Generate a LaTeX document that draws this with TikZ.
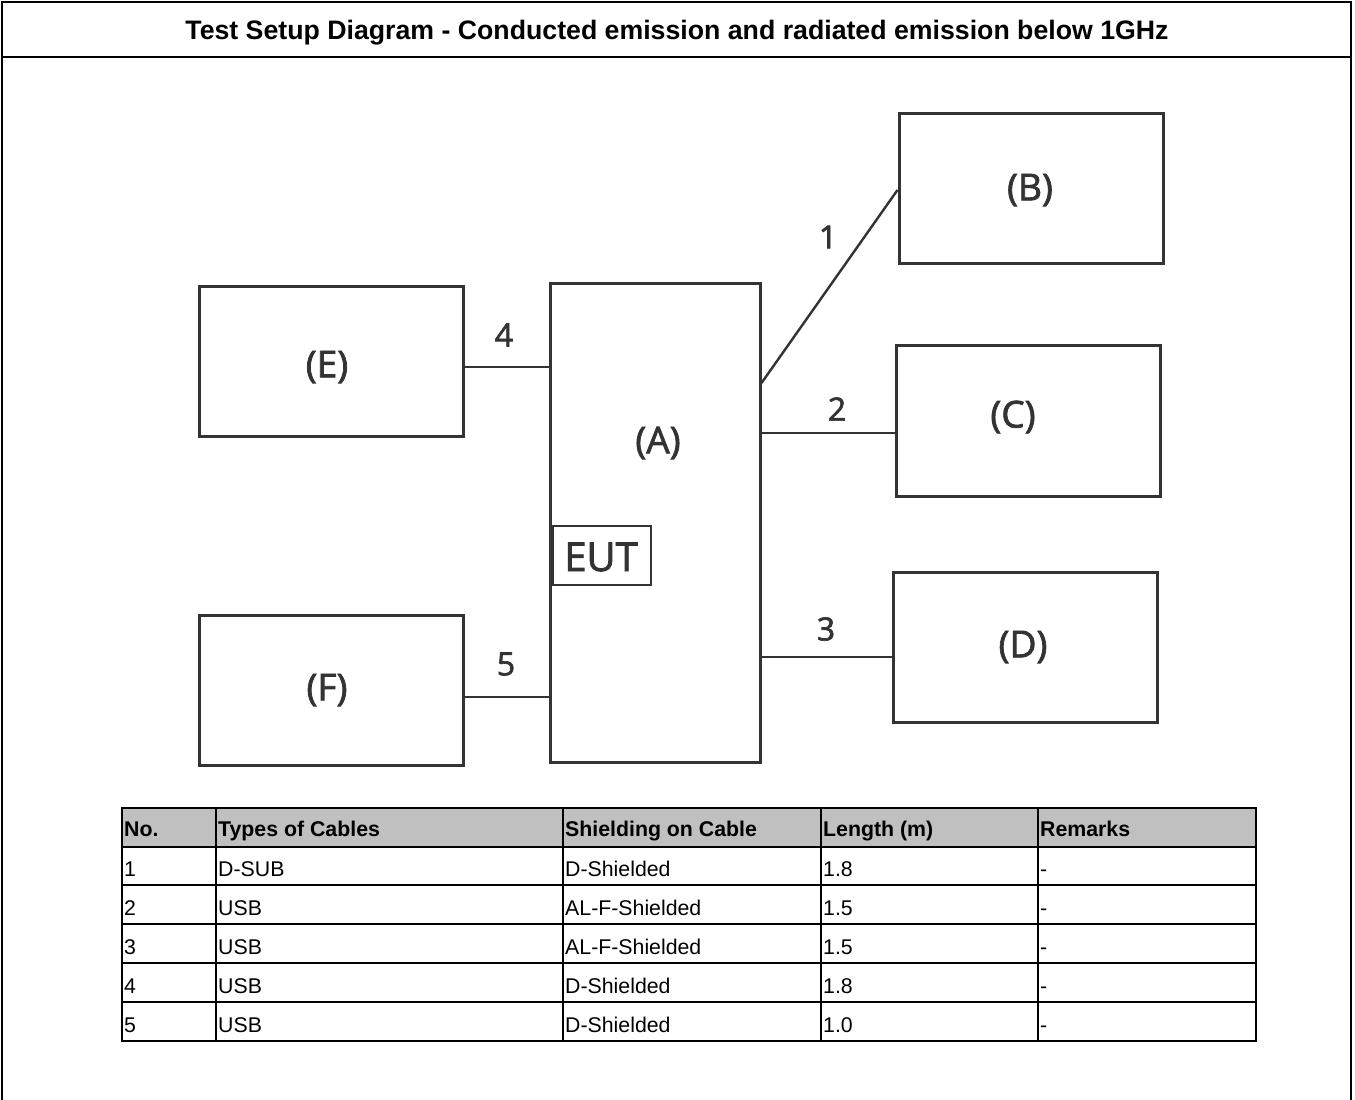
\documentclass[tikz,border=0pt]{standalone}
\usepackage{fontspec}
\setmainfont{Liberation Sans}
\newfontfamily\diagfont{Open Sans}[FakeBold=2]
\definecolor{ink}{HTML}{333333}
\definecolor{hdrgray}{HTML}{C0C0C0}
\begin{document}
\begin{tikzpicture}[x=1pt,y=-1pt,
  box/.style={draw=ink,line width=3pt,rectangle,inner sep=0pt},
  cable/.style={draw=ink,line width=2.8pt},
  boxtext/.style={font=\diagfont\fontsize{37}{40}\selectfont,text=ink,inner sep=0pt},
  numtext/.style={font=\diagfont\fontsize{32}{34}\selectfont,text=ink,inner sep=0pt},
  tline/.style={draw=black,line width=1.6pt},
  cell/.style={anchor=base west,inner sep=0pt,font=\fontsize{21.3}{24}\selectfont},
  hcell/.style={cell,font=\bfseries\fontsize{21.3}{24}\selectfont}]
\useasboundingbox (0,0) rectangle (1355,1100);
% frame (open at the bottom)
\draw[line width=2pt] (1.5,1101) -- (1.5,1.5) -- (1351,1.5) -- (1351,1101);
\draw[line width=2pt] (1.5,57) -- (1351,57);
\node[anchor=base,inner sep=0pt,font=\bfseries\fontsize{26.7}{30}\selectfont] (title) at (677,39) {Test Setup Diagram - Conducted emission and radiated emission below 1GHz};
% boxes
\node[box,minimum width=264pt,minimum height=150pt] (B) at (1031,188) {};
\node[box,minimum width=264pt,minimum height=151pt] (C) at (1028,420.5) {};
\node[box,minimum width=264pt,minimum height=150pt] (D) at (1025,647) {};
\node[box,minimum width=264pt,minimum height=150pt] (E) at (331,361) {};
\node[box,minimum width=264pt,minimum height=150pt] (F) at (331,690) {};
\node[box,minimum width=210pt,minimum height=479pt] (A) at (655,522.5) {};
\node[box,line width=2.6pt,minimum width=98pt,minimum height=59pt] (EUT) at (602,555.5) {};
% box texts
\node[boxtext] (tA) at (658,443) {(A)};
\node[boxtext] (tB) at (1030,190) {(B)};
\node[boxtext] (tC) at (1013,417) {(C)};
\node[boxtext] (tD) at (1023,647) {(D)};
\node[boxtext] (tE) at (327,367) {(E)};
\node[boxtext] (tF) at (327,690) {(F)};
\node[boxtext,font=\diagfont\fontsize{40}{44}\selectfont] (tEUT) at (601,557) {EUT};
% connector levels
\coordinate (y1) at (0,383);
\coordinate (y2) at (0,433);
\coordinate (y3) at (0,657);
\coordinate (y4) at (0,367);
\coordinate (y5) at (0,697);
\coordinate (y1b) at (0,190);
\draw[cable,line width=2.4pt] (A.east |- y1) -- (B.west |- y1b);
\draw[cable] (A.east |- y2) -- (C.west |- y2);
\draw[cable] (A.east |- y3) -- (D.west |- y3);
\draw[cable] (E.east |- y4) -- (A.west |- y4);
\draw[cable] (F.east |- y5) -- (A.west |- y5);
\node[numtext] (n1) at (828,237) {1};
\node[numtext] (n2) at (837,409) {2};
\node[numtext] (n3) at (826,629) {3};
\node[numtext] (n4) at (504,335) {4};
\node[numtext] (n5) at (506,664) {5};
% table
\fill[hdrgray] (122,808) rectangle (1256,847);
\foreach \y in {808,847,885,924,963,1002,1041} \draw[tline] (121.2,\y) -- (1256.8,\y);
\foreach \x in {122,216,563,821,1038,1256} \draw[tline] (\x,808) -- (\x,1041);
\node[hcell] at (124,836) {No.};
\node[hcell] at (218,836) {Types of Cables};
\node[hcell] at (565,836) {Shielding on Cable};
\node[hcell] at (823,836) {Length (m)};
\node[hcell] at (1040,836) {Remarks};
\foreach \r/\n/\t/\s/\l in {876/1/D-SUB/D-Shielded/1.8, 915/2/USB/AL-F-Shielded/1.5, 954/3/USB/AL-F-Shielded/1.5, 993/4/USB/D-Shielded/1.8, 1032/5/USB/D-Shielded/1.0}{
  \node[cell] at (124,\r) {\n};
  \node[cell] at (218,\r) {\t};
  \node[cell] at (565,\r) {\s};
  \node[cell] at (823,\r) {\l};
  \node[cell] at (1040,\r) {-};
}
\end{tikzpicture}
\end{document}
